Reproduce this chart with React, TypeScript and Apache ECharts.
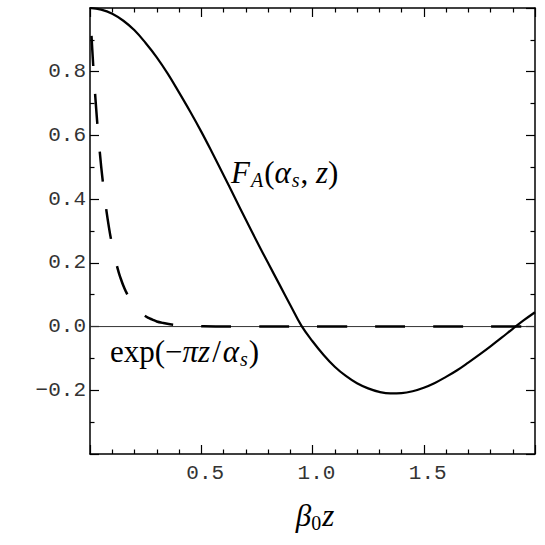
import React, { useEffect, useRef } from "react";
import * as echarts from "echarts";

// F_A(alpha_s, z)
const FA_X = [0, 0.05, 0.1, 0.15, 0.2, 0.25, 0.3, 0.35, 0.4, 0.45, 0.5, 0.55, 0.6, 0.65, 0.7, 0.75, 0.8, 0.85, 0.9, 0.95, 1.0, 1.05, 1.1, 1.15, 1.2, 1.25, 1.3, 1.35, 1.4, 1.45, 1.5, 1.55, 1.6, 1.65, 1.7, 1.75, 1.8, 1.85, 1.9, 1.95, 2.0];
const FA_Y = [1.0, 0.995, 0.982, 0.96, 0.93, 0.89, 0.845, 0.793, 0.735, 0.675, 0.612, 0.545, 0.476, 0.406, 0.336, 0.267, 0.2, 0.134, 0.068, 0.003, -0.046, -0.089, -0.126, -0.155, -0.178, -0.194, -0.205, -0.21, -0.209, -0.203, -0.192, -0.177, -0.158, -0.137, -0.113, -0.088, -0.062, -0.035, -0.007, 0.02, 0.045];

// exp(-pi z / alpha_s)
const EXP_X = [0, 0.005, 0.01, 0.015, 0.02, 0.025, 0.03, 0.035, 0.04, 0.05, 0.06, 0.07, 0.08, 0.09, 0.1, 0.11, 0.12, 0.13, 0.14, 0.15, 0.16, 0.18, 0.2, 0.22, 0.24, 0.26, 0.28, 0.3, 0.33, 0.36, 0.4, 0.45, 0.5, 0.6, 0.8, 1.0, 1.2, 1.4, 1.6, 1.8, 2.0];
const EXP_Y = [1.0, 0.935, 0.872, 0.814, 0.76, 0.71, 0.663, 0.619, 0.578, 0.504, 0.44, 0.383, 0.334, 0.291, 0.254, 0.222, 0.193, 0.168, 0.147, 0.128, 0.112, 0.085, 0.065, 0.049, 0.037, 0.028, 0.022, 0.016, 0.011, 0.007, 0.004, 0.002, 0.001, 0, 0, 0, 0, 0, 0, 0, 0];

const ZERO_X = [0, 2];
const ZERO_Y = [0, 0];

const X_MIN = 0, X_MAX = 2, X_INT = 0.5;
const Y_MIN = -0.4, Y_MAX = 1.0, Y_INT = 0.2;
const X_LABELS = [0.5, 1.0, 1.5];
const Y_LABELS = [-0.2, 0, 0.2, 0.4, 0.6, 0.8];

const zip = (xs: number[], ys: number[]) => xs.map((x, i) => [x, ys[i]]);

const MONO = "'Liberation Mono', 'DejaVu Sans Mono', monospace";
const SERIF = "'Liberation Serif', 'DejaVu Serif', serif";

const fmtY = (v: number) => {
  if (!Y_LABELS.some((t) => Math.abs(t - v) < 1e-6)) return "";
  if (Math.abs(v) < 1e-9) return "0.0";
  return v < 0 ? "\u2212" + Math.abs(v).toFixed(1) : v.toFixed(1);
};
const fmtX = (v: number) =>
  X_LABELS.some((t) => Math.abs(t - v) < 1e-6) ? v.toFixed(1) : "";

const axisCommon = {
  axisLine: { onZero: false, lineStyle: { color: "#000", width: 1.5 } },
  axisTick: { inside: true, length: 9, lineStyle: { color: "#000", width: 1.2 } },
  splitLine: { show: false },
  minorSplitLine: { show: false },
};

const FS = 31;
const SFS = 20;
const mathRich = {
  i: { fontFamily: SERIF, fontStyle: "italic", fontSize: FS, color: "#000" },
  r: { fontFamily: SERIF, fontSize: FS, color: "#000" },
  rp: { fontFamily: SERIF, fontSize: FS, color: "#000", padding: [0, 2, 0, 2] },
  si: { fontFamily: SERIF, fontStyle: "italic", fontSize: SFS, color: "#000", padding: [15, 1, 0, 1] },
  sr: { fontFamily: SERIF, fontSize: SFS, color: "#000", padding: [15, 1, 0, 0] },
};

export default function App() {
  const ref = useRef<HTMLDivElement>(null);
  useEffect(() => {
    const chart = echarts.init(ref.current!, null, { renderer: "svg" });
    const xAxisBase = {
      type: "value",
      min: X_MIN,
      max: X_MAX,
      interval: X_INT,
      ...axisCommon,
      minorTick: { show: true, splitNumber: 5, length: 4.5, lineStyle: { color: "#000", width: 1.2 } },
    };
    const yAxisBase = {
      type: "value",
      min: Y_MIN,
      max: Y_MAX,
      interval: Y_INT,
      ...axisCommon,
      minorTick: { show: true, splitNumber: 2, length: 4.5, lineStyle: { color: "#000", width: 1.2 } },
    };
    chart.setOption({
      animation: false,
      backgroundColor: "#fff",
      grid: { left: 90, right: 10, top: 8, bottom: 91, containLabel: false },
      xAxis: [
        {
          ...xAxisBase,
          position: "bottom",
          axisLabel: {
            formatter: fmtX,
            fontFamily: MONO,
            fontSize: 21,
            color: "#333",
            margin: 9,
            padding: [0, 0, 0, 8],
            showMinLabel: true,
            showMaxLabel: true,
          },
        },
        { ...xAxisBase, position: "top", axisLabel: { show: false } },
      ],
      yAxis: [
        {
          ...yAxisBase,
          position: "left",
          axisLabel: {
            formatter: fmtY,
            fontFamily: MONO,
            fontSize: 21,
            color: "#333",
            margin: 4,
          },
        },
        { ...yAxisBase, position: "right", axisLabel: { show: false } },
      ],
      series: [
        {
          type: "line",
          data: zip(ZERO_X, ZERO_Y),
          symbol: "none",
          lineStyle: { color: "#333", width: 1 },
          silent: true,
          z: 1,
        },
        {
          type: "line",
          data: zip(EXP_X, EXP_Y),
          symbol: "none",
          smooth: 0.3,
          lineStyle: { color: "#000", width: 2.5, type: [30, 28], dashOffset: 30, cap: "butt" },
          z: 2,
        },
        {
          type: "line",
          data: zip(FA_X, FA_Y),
          symbol: "none",
          smooth: 0.4,
          lineStyle: { color: "#000", width: 2.2 },
          z: 3,
        },
      ],
      graphic: [
        {
          type: "text",
          x: 231,
          y: 172,
          style: {
            text: "{i|F}{si|A}{r|(}{i|α}{si|s}{r|, }{i|z}{r|)}",
            rich: mathRich,
            textAlign: "left",
            textVerticalAlign: "middle",
          },
        },
        {
          type: "text",
          x: 110,
          y: 351,
          style: {
            text: "{r|exp(\u2212}{i|π}{i|z}{rp|/}{i|α}{si|s}{r|)}",
            rich: mathRich,
            textAlign: "left",
            textVerticalAlign: "middle",
          },
        },
        {
          type: "text",
          x: 315,
          y: 515,
          style: {
            text: "{i|β}{sr|0}{i|z}",
            rich: mathRich,
            textAlign: "center",
            textVerticalAlign: "middle",
          },
        },
      ],
    });
    return () => chart.dispose();
  }, []);
  return (
    <div
      ref={ref}
      style={{ position: "absolute", left: 0, top: 0, width: 545, height: 545 }}
    />
  );
}
